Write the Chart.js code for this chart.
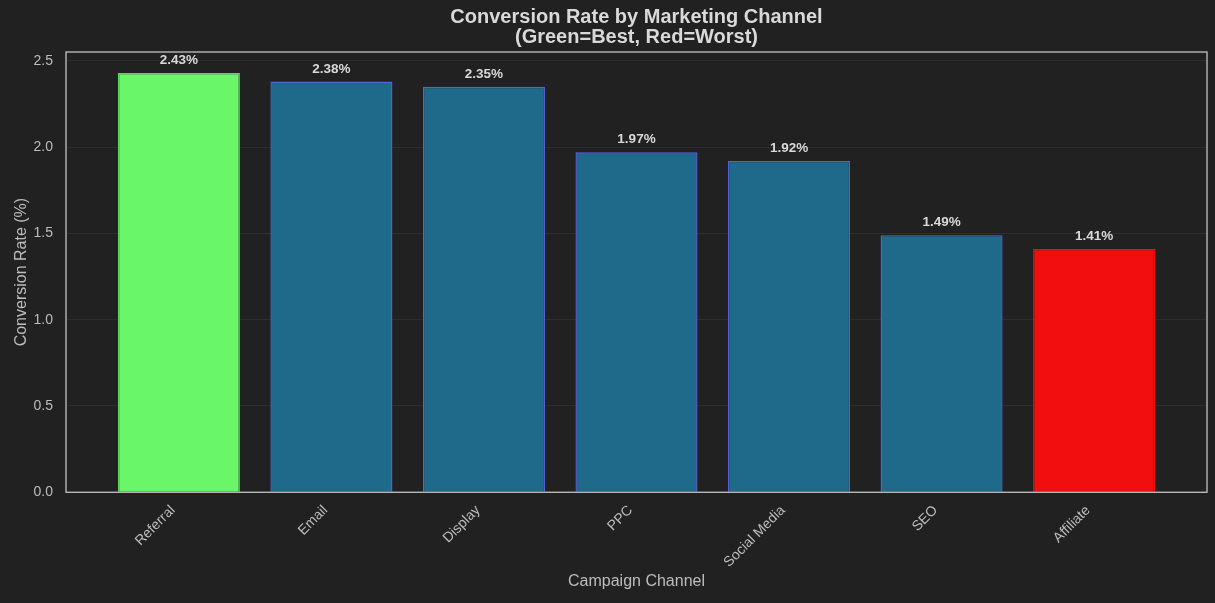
<!DOCTYPE html>
<html>
<head>
<meta charset="utf-8">
<title>Conversion Rate by Marketing Channel</title>
<script src="https://cdn.jsdelivr.net/npm/chart.js@4.4.1/dist/chart.umd.min.js"></script>
<style>
  html, body { margin: 0; padding: 0; background: #212121; }
  #wrap { width: 1215px; height: 603px; }
</style>
</head>
<body>
<div id="wrap"><canvas id="barChart" width="1215" height="603"></canvas></div>
<script>
// channels sorted by conversion rate
var channels = ['Referral', 'Email', 'Display', 'PPC', 'Social Media', 'SEO', 'Affiliate'];
var rates = [2.43, 2.38, 2.35, 1.97, 1.92, 1.49, 1.41];
var yTicks = [0.0, 0.5, 1.0, 1.5, 2.0, 2.5];

var fillCols = [];
var edgeCols = [];
for (let i = 0; i < rates.length; i++) {
    if (i === 0) { fillCols.push('#69f769'); edgeCols.push('#5ad85a'); }
    else if (i === rates.length - 1) { fillCols.push('#f20e0e'); edgeCols.push('#f20e0e'); }
    else { fillCols.push('#1f6a8a'); edgeCols.push('#5763d8'); }
}

var txt = '#d9d9d9';
var fontFam = '"Liberation Sans", Arial, sans-serif';

// box around the plot + value labels on top of each bar
const decor = {
    id: 'decor',
    beforeDraw(chart) {
        const c = chart.ctx;
        c.save();
        c.fillStyle = '#212121';
        c.fillRect(0, 0, chart.width, chart.height);
        c.restore();
    },
    afterDatasetsDraw(chart) {
        const c = chart.ctx;
        const a = chart.chartArea;
        c.save();
        c.strokeStyle = '#cfcfcf';
        c.lineWidth = 1.2;
        c.strokeRect(a.left, a.top, a.right - a.left, a.bottom - a.top);
        c.fillStyle = txt;
        c.font = 'bold 13.5px ' + fontFam;
        c.textAlign = 'center';
        c.textBaseline = 'bottom';
        chart.getDatasetMeta(0).data.forEach((bar, i) => {
            c.fillText(rates[i].toFixed(2) + '%', bar.x, bar.y - 6);
        });
        c.restore();
    }
};

const ctx = document.getElementById('barChart').getContext('2d');
new Chart(ctx, {
    type: 'bar',
    data: {
        datasets: [{
            data: rates.map((v, i) => ({ x: i, y: v })),
            backgroundColor: fillCols,
            borderColor: edgeCols,
            borderWidth: 1.4,
            barPercentage: 0.8,
            categoryPercentage: 1.0
        }]
    },
    options: {
        responsive: false,
        animation: false,
        layout: { padding: { left: 12, right: 8, top: 5, bottom: 12 } },
        plugins: {
            legend: { display: false },
            tooltip: { enabled: false },
            title: {
                display: true,
                fullSize: false,
                text: ['Conversion Rate by Marketing Channel', '(Green=Best, Red=Worst)'],
                color: txt,
                font: { family: fontFam, size: 20, weight: 'bold', lineHeight: 1.0 },
                padding: { top: 2, bottom: 5 }
            }
        },
        scales: {
            x: {
                type: 'linear',
                min: -0.74,
                max: 6.74,
                offset: false,
                afterBuildTicks: axis => { axis.ticks = channels.map((c, i) => ({ value: i })); },
                ticks: {
                    color: '#bdbdbd',
                    font: { family: fontFam, size: 14 },
                    maxRotation: 45,
                    minRotation: 45,
                    autoSkip: false,
                    padding: 10,
                    labelOffset: -6,
                    callback: v => channels[v]
                },
                grid: { display: false, drawTicks: false },
                border: { display: false },
                title: {
                    display: true,
                    text: 'Campaign Channel',
                    color: '#bdbdbd',
                    font: { family: fontFam, size: 16 },
                    padding: { top: -9, bottom: 0 }
                }
            },
            y: {
                min: 0,
                max: 2.5515,
                afterBuildTicks: axis => { axis.ticks = yTicks.map(v => ({ value: v })); },
                // fixed width for the title + tick column
                afterFit: axis => { axis.width = 54; },
                ticks: {
                    color: '#bdbdbd',
                    font: { family: fontFam, size: 14 },
                    padding: 13,
                    callback: v => v.toFixed(1)
                },
                grid: { color: 'rgba(255,255,255,0.06)', drawTicks: false },
                border: { display: false },
                title: {
                    display: true,
                    text: 'Conversion Rate (%)',
                    color: '#bdbdbd',
                    font: { family: fontFam, size: 16 },
                    padding: { top: 0, bottom: 6 }
                }
            }
        }
    },
    plugins: [decor]
});
</script>
</body>
</html>
